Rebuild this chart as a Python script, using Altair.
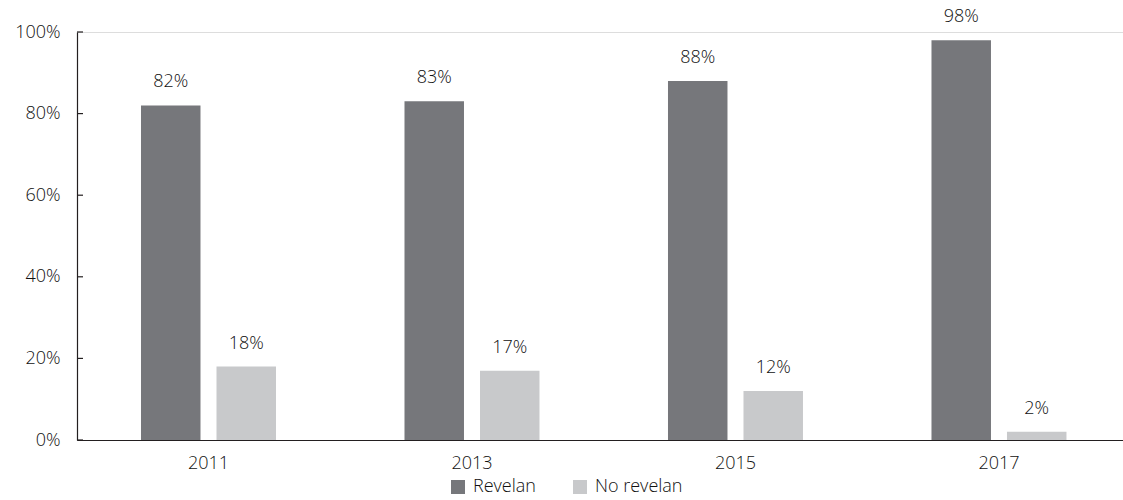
import altair as alt
import pandas as pd

years = ["2011", "2013", "2015", "2017"]
series = ["Revelan", "No revelan"]
revelan = [82, 83, 88, 98]
no_revelan = [18, 17, 12, 2]
label_revelan = ["82%", "83%", "88%", "98%"]
label_no = ["18%", "17%", "12%", "2%"]
y_ticks = [0, 20, 40, 60, 80, 100]
colors = ["#76777B", "#C8C9CB"]

rows = []
for i, y in enumerate(years):
    rows.append({"year": y, "serie": series[0], "value": revelan[i], "label": label_revelan[i]})
    rows.append({"year": y, "serie": series[1], "value": no_revelan[i], "label": label_no[i]})
df = pd.DataFrame(rows)
ticks_df = pd.DataFrame({"t": y_ticks})

FONT = "Open Sans"
W = 300
TXT = "#111111"

x_enc = alt.X("year:N", title=None,
              scale=alt.Scale(paddingInner=0.4877, paddingOuter=0.2287, align=0.531),
              axis=alt.Axis(labelFontSize=18, labelFont=FONT, labelFontWeight=W, labelColor=TXT, labelAngle=0,
                            ticks=False, domainColor="#231F20", domainWidth=1.2,
                            labelPadding=14, grid=False))
y_scale = alt.Scale(domain=[0, 100])
xoff = alt.XOffset("serie:N", sort=series, scale=alt.Scale(paddingInner=0.212, paddingOuter=0))

bars = alt.Chart(df).mark_bar().encode(
    x=x_enc,
    xOffset=xoff,
    y=alt.Y("value:Q", title=None, scale=y_scale,
            axis=alt.Axis(values=y_ticks, format="d", labelExpr="datum.value + '%'",
                          labelFontSize=18, labelFont=FONT, labelFontWeight=W, labelColor=TXT,
                          ticks=False, labelPadding=17, grid=False,
                          domainColor="#231F20", domainWidth=1.2)),
    color=alt.Color("serie:N", sort=series,
                    scale=alt.Scale(domain=series, range=colors),
                    legend=alt.Legend(title=None, orient="none", direction="horizontal",
                                      legendX=372, legendY=446,
                                      symbolType="square", symbolSize=196,
                                      symbolStrokeWidth=0,
                                      labelFontSize=18, labelFont=FONT, labelFontWeight=W, labelColor=TXT,
                                      columnPadding=35, labelOffset=6)),
)

labels = alt.Chart(df).mark_text(baseline="alphabetic", dy=-18, fontSize=18, font=FONT, fontWeight=W, color=TXT).encode(
    x=alt.X("year:N"),
    xOffset=xoff,
    y=alt.Y("value:Q", scale=y_scale),
    text="label:N",
)

yticks = alt.Chart(ticks_df).mark_rule(color="#231F20", strokeWidth=1.2).encode(
    y=alt.Y("t:Q", scale=y_scale),
    x=alt.value(0),
    x2=alt.value(6),
)

chart = alt.layer(bars, labels, yticks).properties(
    width=1046, height=408,
    autosize=alt.AutoSizeParams(type="none"),
    padding={"left": 77, "top": 32, "right": 0, "bottom": 60},
).configure_view(stroke=None).configure(font=FONT)

chart.save("out.html", embed_options={"renderer": "svg", "actions": False})
